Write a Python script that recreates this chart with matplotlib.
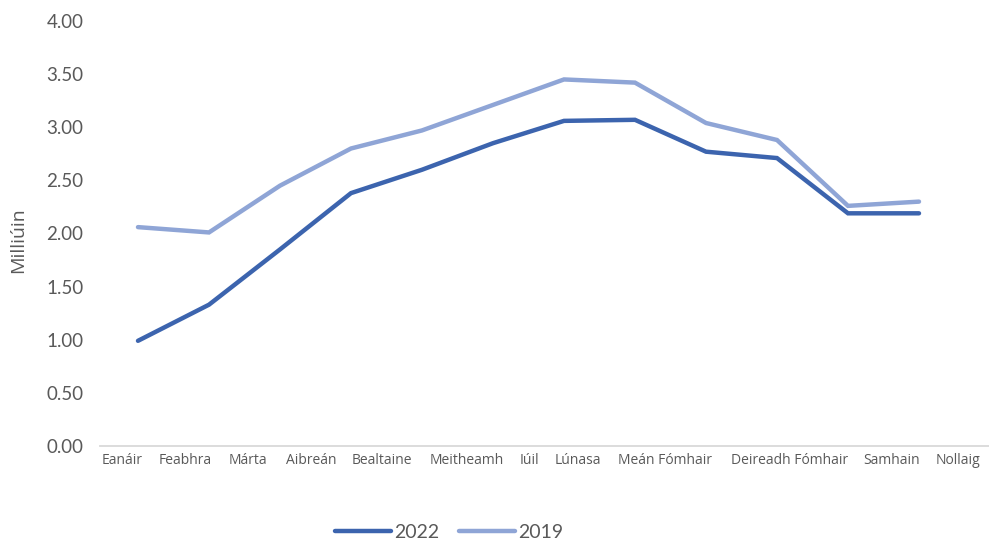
import matplotlib.pyplot as plt

months = ["Eanáir", "Feabhra", "Márta", "Aibreán", "Bealtaine", "Meitheamh", "Iúil",
          "Lúnasa", "Meán Fómhair", "Deireadh Fómhair", "Samhain", "Nollaig"]
v2022 = [0.99, 1.33, 1.85, 2.38, 2.60, 2.85, 3.06, 3.07, 2.77, 2.71, 2.19, 2.19]
v2019 = [2.06, 2.01, 2.45, 2.80, 2.97, 3.21, 3.45, 3.42, 3.04, 2.88, 2.26, 2.30]
# label centres are packed like Excel does it, not under the points
label_pos = [-0.23, 0.67, 1.55, 2.44, 3.44, 4.63, 5.51, 6.20, 7.42, 9.17, 10.61, 11.55]

plt.rcParams["font.family"] = ["Lato", "DejaVu Sans"]

fig = plt.figure(figsize=(9.89, 5.41), dpi=100)
ax = fig.add_axes([100/989, 1 - 446/541, 890/989, 425/541])

x = list(range(len(months)))
ax.plot(x, v2022, color="#3c64ae", lw=3.2, solid_capstyle="round", solid_joinstyle="miter", label="2022", zorder=3)
ax.plot(x, v2019, color="#8fa5d6", lw=3.2, solid_capstyle="round", solid_joinstyle="miter", label="2019", zorder=2)

ax.set_xlim(-0.535, 12.0)
ax.set_ylim(0, 4)
ax.set_yticks([i * 0.5 for i in range(9)])
ax.set_yticklabels([f"{i * 0.5:.2f}" for i in range(9)])
ax.set_xticks(label_pos)
ax.set_xticklabels(months, fontfamily="Open Sans", fontsize=10, color="#595959")

for s in ["top", "right", "left"]:
    ax.spines[s].set_visible(False)
ax.spines["bottom"].set_color("#d9d9d9")
ax.spines["bottom"].set_linewidth(1.3)
ax.tick_params(axis="both", length=0)
ax.tick_params(axis="y", labelsize=13.5, labelcolor="#595959", pad=12)
ax.tick_params(axis="x", pad=5)

ax.set_ylabel("Milliúin", fontfamily="Open Sans", fontsize=14, color="#595959")
ax.yaxis.set_label_coords(-73/890, 0.485)

leg = fig.legend(loc="center", bbox_to_anchor=(449/989, 1 - 532/541), ncol=2, frameon=False,
                 fontsize=14, handlelength=2.9, handletextpad=0.15, columnspacing=1.0)
for t in leg.get_texts():
    t.set_color("#595959")

fig.savefig("out.png", dpi=100)
